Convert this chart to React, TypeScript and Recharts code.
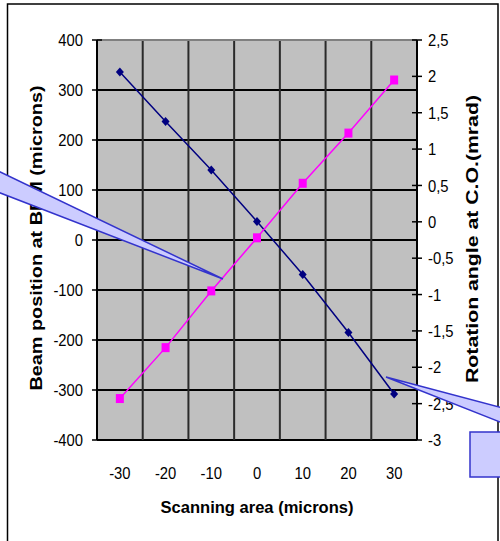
import React from 'react';
import { LineChart, Line, XAxis, YAxis, CartesianGrid, ReferenceLine } from 'recharts';

const scanPositions = [-30, -20, -10, 0, 10, 20, 30];
const beamPosition = [336, 237, 140, 37, -69, -185, -308];
const rotationAngle = [-2.43, -1.73, -0.95, -0.22, 0.53, 1.22, 1.95];

const leftTicks = [-400, -300, -200, -100, 0, 100, 200, 300, 400];
const rightTicks = [-3, -2.5, -2, -1.5, -1, -0.5, 0, 0.5, 1, 1.5, 2, 2.5];
const categoryBounds = [-35, -25, -15, -5, 5, 15, 25, 35];

const data = scanPositions.map((x, i) => ({ x, beam: beamPosition[i], rot: rotationAngle[i] }));

const FONT = '"Liberation Sans", Arial, sans-serif';

const XTick = ({ x, y, payload }: any) => (
  <g transform={`translate(${x},${y})`}>
    <text transform="scale(0.87,1)" textAnchor="middle" dy="0.71em" fontSize={17} fontFamily={FONT} fill="#000">
      {payload.value}
    </text>
  </g>
);

const LeftTick = ({ x, y, payload }: any) => (
  <g>
    <line x1={x + 9} x2={x + 19} y1={y} y2={y} stroke="#000" strokeWidth={1.5} />
    <g transform={`translate(${x},${y})`}>
      <text transform="scale(0.87,1)" textAnchor="end" dy="0.36em" fontSize={17} fontFamily={FONT} fill="#000">
        {payload.value}
      </text>
    </g>
  </g>
);

const RightTick = ({ x, y, payload }: any) => (
  <g>
    <line x1={x - 16} x2={x - 6} y1={y} y2={y} stroke="#000" strokeWidth={1.5} />
    <g transform={`translate(${x},${y})`}>
      <text transform="scale(0.87,1)" textAnchor="start" dy="0.36em" fontSize={17} fontFamily={FONT} fill="#000">
        {String(payload.value).replace('.', ',')}
      </text>
    </g>
  </g>
);

const Diamond = ({ cx, cy, index }: any) => (
  <polygon
    key={`d${index}`}
    points={`${cx},${cy - 4.5} ${cx + 4},${cy} ${cx},${cy + 4.5} ${cx - 4},${cy}`}
    fill="#000080"
  />
);

const Square = ({ cx, cy, index }: any) => (
  <rect key={`s${index}`} x={cx - 4} y={cy - 4.5} width={8} height={9} fill="#FF00FF" />
);

const LeftTitle = ({ viewBox }: any) => {
  const cx = viewBox.x + 42;
  const cy = viewBox.y + viewBox.height / 2 - 2;
  return (
    <text
      x={cx}
      y={cy}
      transform={`rotate(-90 ${cx} ${cy})`}
      textAnchor="middle"
      fontSize={17}
      fontWeight="bold"
      fontFamily={FONT}
      textLength={305}
      lengthAdjust="spacingAndGlyphs"
    >
      Beam position at BPM (microns)
    </text>
  );
};

const RightTitle = ({ viewBox }: any) => {
  const cx = viewBox.x + 61;
  const cy = viewBox.y + viewBox.height / 2 - 1;
  return (
    <text
      x={cx}
      y={cy}
      transform={`rotate(-90 ${cx} ${cy})`}
      textAnchor="middle"
      fontSize={17}
      fontWeight="bold"
      fontFamily={FONT}
      textLength={288}
      lengthAdjust="spacingAndGlyphs"
    >
      Rotation angle at C.O.(mrad)
    </text>
  );
};

const BottomTitle = ({ viewBox }: any) => (
  <text
    x={viewBox.x + viewBox.width / 2}
    y={viewBox.y + 73}
    textAnchor="middle"
    fontSize={17}
    fontWeight="bold"
    fontFamily={FONT}
    textLength={193}
    lengthAdjust="spacingAndGlyphs"
  >
    Scanning area (microns)
  </text>
);

export default function App() {
  return (
    <div style={{ position: 'absolute', left: 0, top: 0, width: 500, height: 541, background: '#fff', overflow: 'hidden' }}>
      <LineChart width={500} height={541} data={data} margin={{ top: 40, right: 0, bottom: 0, left: 0 }}>
        <CartesianGrid
          yAxisId="left"
          vertical={false}
          fill="#C0C0C0"
          fillOpacity={1}
          stroke="#000"
          strokeWidth={2}
        />
        <XAxis
          dataKey="x"
          type="number"
          domain={[-35, 35]}
          ticks={categoryBounds}
          height={0}
          tick={false}
          tickSize={7}
          tickLine={{ stroke: '#000', strokeWidth: 1.5 }}
          axisLine={{ stroke: '#000', strokeWidth: 2 }}
        />
        <XAxis
          xAxisId="lab"
          dataKey="x"
          type="number"
          domain={[-35, 35]}
          ticks={scanPositions}
          height={101}
          axisLine={false}
          tickLine={false}
          tickSize={0}
          tickMargin={27}
          tick={<XTick />}
          label={<BottomTitle />}
        />
        <YAxis
          yAxisId="left"
          orientation="left"
          width={97}
          domain={[-400, 400]}
          ticks={leftTicks}
          tickSize={5}
          tickMargin={9}
          tickLine={false}
          axisLine={{ stroke: '#000', strokeWidth: 2 }}
          tick={<LeftTick />}
          label={<LeftTitle />}
        />
        <YAxis
          yAxisId="right"
          orientation="right"
          width={83}
          domain={[-3, 2.5]}
          ticks={rightTicks}
          tickSize={5}
          tickMargin={6}
          tickLine={false}
          axisLine={{ stroke: '#000', strokeWidth: 2 }}
          tick={<RightTick />}
          label={<RightTitle />}
        />
        {categoryBounds.map((b) => (
          <ReferenceLine key={`v${b}`} yAxisId="left" x={b} stroke="#2a2a2a" strokeWidth={2} />
        ))}
        <ReferenceLine xAxisId="lab" yAxisId="left" y={400} stroke="#808080" strokeWidth={2} />
        <Line
          xAxisId="lab"
          yAxisId="left"
          dataKey="beam"
          stroke="#000080"
          strokeWidth={1.5}
          dot={(p: any) => <Diamond {...p} />}
          activeDot={false}
          isAnimationActive={false}
        />
        <Line
          xAxisId="lab"
          yAxisId="right"
          dataKey="rot"
          stroke="#FF00FF"
          strokeWidth={1.5}
          dot={(p: any) => <Square {...p} />}
          activeDot={false}
          isAnimationActive={false}
        />
      </LineChart>
      <svg width={500} height={541} style={{ position: 'absolute', left: 0, top: 0, pointerEvents: 'none' }}>
        <rect x={7.5} y={4} width={490.5} height={560} fill="none" stroke="#000" strokeWidth={1.5} />
        <polygon points="-10,167 223,279 -10,189" fill="#CCCCFF" stroke="#3333CC" strokeWidth={1.5} />
        <polygon points="386,377 510,410 510,426" fill="#CCCCFF" stroke="#3333CC" strokeWidth={1.5} />
        <rect x={470} y={432} width={40} height={45} fill="#CCCCFF" stroke="#3333CC" strokeWidth={1.5} />
      </svg>
    </div>
  );
}
